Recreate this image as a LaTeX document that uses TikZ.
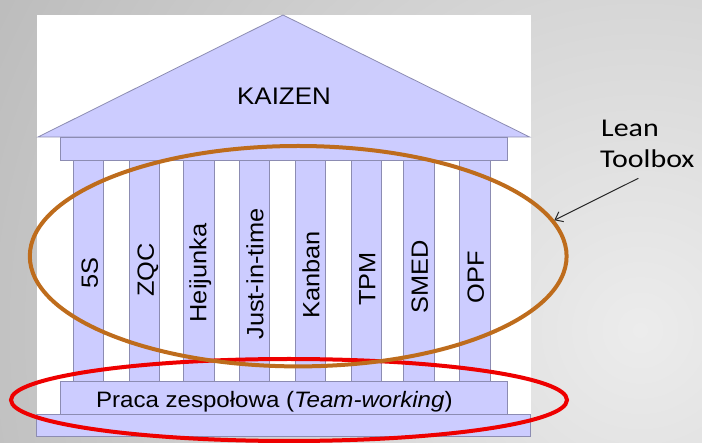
\documentclass[tikz,border=0pt]{standalone}
\usepackage{fontspec}
\setmainfont{Liberation Sans}
\newfontfamily\leanfont{Carlito}
\usetikzlibrary{shapes.geometric,arrows.meta}

\definecolor{bgouter}{RGB}{186,186,186}
\definecolor{bginner}{RGB}{236,236,236}
\definecolor{lav}{RGB}{204,204,255}
\definecolor{lavline}{RGB}{140,140,178}
\definecolor{toolbrown}{RGB}{190,108,28}
\definecolor{teamred}{RGB}{238,0,0}
\definecolor{arrowgray}{RGB}{40,40,40}

% slightly widened sans text
\newcommand{\widetext}[1]{\scalebox{1.08}[1]{#1}}

\begin{document}
\begin{tikzpicture}[x=1pt,y=-1pt,
  part/.style={draw=lavline, line width=0.8pt, fill=lav},
  blockpart/.style={part, inner sep=0pt},
  pillar/.style={part, minimum width=30.5pt, minimum height=221pt, inner sep=0pt},
  pillarlabel/.style={rotate=90, inner sep=0pt, text height=16.8pt, text depth=0pt,
    font=\fontsize{23.5}{26}\selectfont},
  ring/.style={ellipse, inner sep=0pt, line width=4pt},
  sidelabel/.style={font=\leanfont\fontsize{25.6}{30}\selectfont, anchor=base west, inner sep=0pt},
]
% page and background
\useasboundingbox (0,0) rectangle (702,443);
\begin{scope}
  \clip (0,0) rectangle (702,443);
  \shade[inner color=bginner, outer color=bgouter] (640,330) circle (760pt);
\end{scope}

% white panel behind the temple
\fill[white] (36.7,15) rectangle (530.5,437);

% roof
\draw[part] (38,137) -- (283,15) -- (529.6,137) -- cycle;
\node[font=\fontsize{24}{28}\selectfont, inner sep=0pt, text height=17.2pt, text depth=0pt]
  (kaizen) at (284,95.5) {\widetext{KAIZEN}};

% architrave
\node[blockpart, minimum width=446.6pt, minimum height=23.7pt] (beam) at (283.7,148.85) {};

% pillars
\foreach \cx [count=\i] in {88.5,144.5,198.75,254.5,310.5,366.5,419,475}
  \node[pillar] (p\i) at (\cx,271.2) {};

\node[pillarlabel] (l1) at (89.5,273)   {\widetext{5S}};
\node[pillarlabel] (l2) at (145.5,270)  {\widetext{ZQC}};
\node[pillarlabel] (l3) at (198,273)    {\widetext{Heijunka}};
\node[pillarlabel] (l4) at (255,274)    {\widetext{Just-in-time}};
\node[pillarlabel] (l5) at (311,275)    {\widetext{Kanban}};
\node[pillarlabel] (l6) at (367,279)    {\widetext{TPM}};
\node[pillarlabel] (l7) at (419.5,277)  {\widetext{SMED}};
\node[pillarlabel] (l8) at (475.5,277.5){\widetext{OPF}};

% base steps
\node[blockpart, minimum width=446.6pt, minimum height=32.3pt] (step1) at (283.7,397.85) {};
\node[blockpart, minimum width=493.8pt, minimum height=22.7pt] (step2) at (283.6,425.35) {};
\node[font=\fontsize{22.3}{26}\selectfont, inner sep=0pt, text height=16pt, text depth=0pt]
  (team) at (274.3,399.5) {\widetext{Praca zespołowa (\textit{Team-working})}};

% highlight rings
\node[ring, draw=teamred, minimum width=556pt, minimum height=82pt] (teamring) at (289,400) {};
\node[ring, draw=toolbrown, minimum width=536.8pt, minimum height=220.4pt] (tools) at (298.2,256.2) {};

% side label with pointer
\node[sidelabel] (lean) at (601,136.7) {\scalebox{1.17}[1]{Lean}};
\node[sidelabel] (toolbox) at (600,167.3) {\scalebox{1.17}[1]{Toolbox}};
\coordinate (ptr) at (638.3,178.3);
\draw[arrowgray, line width=1pt, -{Straight Barb[length=7pt,width=11pt]}] (ptr) -- (tools.8);
\end{tikzpicture}
\end{document}
